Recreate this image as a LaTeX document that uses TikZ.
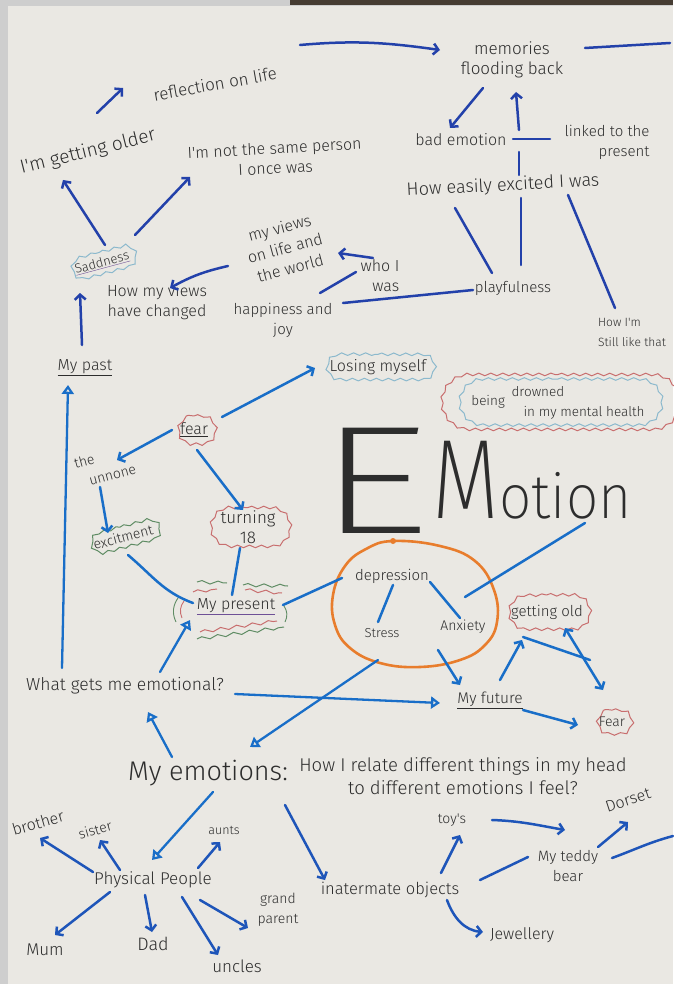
\documentclass[tikz,border=0pt]{standalone}
\usepackage{graphicx}
\usepackage{fontspec}
\newfontfamily\hand{Fira Sans Light}
\newfontfamily\thinhand{Fira Sans ExtraLight}
\usetikzlibrary{arrows.meta,decorations.pathmorphing,calc,fit,shapes.misc}
\definecolor{ink}{RGB}{45,45,45}
\definecolor{paper}{RGB}{234,232,227}
\definecolor{edgegrey}{RGB}{206,206,206}
\definecolor{darkstrip}{RGB}{70,60,50}
\definecolor{penT}{RGB}{35,65,170}
\definecolor{penM}{RGB}{25,110,200}
\definecolor{penB}{RGB}{30,85,185}
\definecolor{cred}{RGB}{200,110,110}
\definecolor{cgreen}{RGB}{95,140,100}
\definecolor{cblue}{RGB}{140,185,205}
\definecolor{corange}{RGB}{232,125,45}
\definecolor{cpurple}{RGB}{110,80,150}
\tikzset{
  hw/.style={font=\hand\fontsize{#1}{20}\selectfont, text=ink, inner sep=1pt, align=center},
  arr/.style={draw=#1, line width=2.5pt, line cap=round, line join=round, -{Straight Barb[length=5pt,width=11pt]}},
  dbl/.style={draw=#1, line width=2.5pt, line cap=round, line join=round, {Straight Barb[length=5pt,width=11pt]}-{Straight Barb[length=5pt,width=11pt]}},
  ln/.style={draw=#1, line width=2.5pt, line cap=round},
  tri/.style={draw=#1, line width=2.3pt, line cap=round, -{Triangle[open,length=9pt,width=12pt]}},
  cl/.style={rounded rectangle, draw=#1, line width=1pt, inner xsep=3pt, inner ysep=5pt, decorate, decoration={snake, segment length=12pt, amplitude=1.3pt}},
  wav/.style={draw=#1, line width=1pt, decorate, decoration={snake, segment length=16pt, amplitude=1.6pt}}
}
\begin{document}
\begin{tikzpicture}[x=1pt,y=1pt]
\useasboundingbox (0,0) rectangle (673,-984);
\fill[edgegrey] (0,0) rectangle (673,-984);
\fill[paper] (8,-6) rectangle (673,-984);
\fill[darkstrip] (290,0) rectangle (673,-5);

% ---------- nodes: top ----------
\node[hw=17, rotate=10] (refl) at (215,-84) {reflection on life};
\node[hw=17] (mem) at (512,-60) {memories\\flooding back};
\node[hw=19, rotate=14] (older) at (88,-152) {I'm getting older};
\node[hw=16, rotate=3] (same) at (275,-158) {I'm not the same person\\I once was};
\node[hw=16] (bad) at (461,-140) {bad emotion};
\node[hw=15, align=right] (linked) at (607,-142) {linked to the\\present};
\node[hw=18, rotate=3] (easily) at (503,-186) {How easily excited I was};
\node[hw=13, rotate=15, cl=cblue] (sad) at (102,-263) {{\color{cpurple}\underline{\textcolor{ink}{Saddness}}}};
\node[hw=16, rotate=15, font=\hand\fontsize{16}{21}\selectfont] (views) at (285,-248) {my views\\on life and\\the world};
\node[hw=16, align=right] (whowas) at (380,-276) {who I\\was};
\node[hw=16] (changed) at (157,-302) {How my views\\have changed};
\node[hw=15] (happy) at (283,-320) {happiness and\\joy};
\node[hw=15] (play) at (513,-288) {playfulness};
\node[hw=12, align=left] (still) at (632,-332) {How I'm\\Still like that};
\node[hw=16] (past) at (85,-368) {\underline{My past}};
\node[hw=16, cl=cblue] (losing) at (378,-367) {Losing myself};
\node[hw=13.5, cl=cblue, inner ysep=3pt] (drown) at (558,-402) {being\enspace\begin{tabular}{@{}l@{}}drowned\\\hspace*{12pt}in my mental health\end{tabular}};
\node[cl=cred, fit=(drown), inner xsep=4pt, inner ysep=4pt] (drownout) {};

% ---------- nodes: middle ----------
\node[hw=16, cl=cred, inner ysep=7pt] (fear) at (194,-430) {\underline{fear}};
\node[hw=14, rotate=15, align=left, font=\hand\fontsize{14}{20}\selectfont] (unknown) at (105,-466) {the\\\hspace*{10pt}unnone};
\node[text=ink, inner sep=0pt, anchor=base west] (emotion) at (317,-533)
  {\thinhand\scalebox{1.45}[1]{\fontsize{154}{154}\selectfont E}\hspace{3pt}\raisebox{15pt}{\scalebox{0.77}[1]{\fontsize{113}{113}\selectfont M}\scalebox{0.92}[1]{\fontsize{62}{62}\selectfont otion}}};
\node[hw=14, rotate=15, cl=cgreen] (excit) at (123,-537) {excitment};
\node[hw=17, cl=cred, inner ysep=3pt] (turn) at (248,-527) {turning\\18};
\node[hw=16] (present) at (236,-607) {{\color{cpurple}\underline{\textcolor{ink}{My present}}}};
\node[hw=15] (depr) at (392,-576) {depression};
\node[hw=13] (stress) at (382,-633) {Stress};
\node[hw=14] (anx) at (463,-627) {Anxiety};
\node[hw=15, cl=cred, inner ysep=10pt] (old) at (547,-612) {getting old};
\node[hw=17.5] (what) at (125,-686) {What gets me emotional?};
\node[hw=15.5] (future) at (490,-700) {\underline{My future}};
\node[hw=14, cl=cred, inner ysep=7pt] (fear2) at (612,-722) {Fear};

% ---------- nodes: bottom ----------
\node[hw=27] (myemo) at (208,-773) {My emotions:};
\node[hw=19, font=\hand\fontsize{18.5}{23}\selectfont] (how) at (463,-776) {How I relate different things in my head\\to different emotions I feel?};
\node[hw=16, rotate=16] (brother) at (38,-823) {brother};
\node[hw=14, rotate=16] (sister) at (95,-830) {sister};
\node[hw=12.5] (aunts) at (224,-830) {aunts};
\node[hw=17] (phys) at (153,-880) {Physical People};
\node[hw=17] (mum) at (45,-950) {Mum};
\node[hw=18] (dad) at (153,-944) {Dad};
\node[hw=17] (uncles) at (237,-966) {uncles};
\node[hw=14] (grand) at (278,-910) {grand\\parent};
\node[hw=16.5] (inan) at (390,-890) {inatermate objects};
\node[hw=14] (toys) at (452,-820) {toy's};
\node[hw=15] (teddy) at (568,-866) {My teddy\\bear};
\node[hw=16, rotate=18] (dorset) at (628,-800) {Dorset};
\node[hw=16] (jewel) at (522,-935) {Jewellery};

\coordinate (edgeA) at (670,-43);
\coordinate (edgeB) at (673,-836);
\coordinate (cross) at (519,-140);
\coordinate (blob) at (415,-603);
\coordinate (oldtip) at (603,-690);
\coordinate (oldmid) at (590,-660);

% ---------- decorations ----------
\draw[corange, line width=2.6pt] plot[smooth cycle, tension=0.7] coordinates {(393,-541) (440,-546) (475,-561) (494,-590) (497,-622) (485,-645) (460,-660) (420,-667) (380,-663) (350,-648) (335,-625) (333,-595) (345,-566) (366,-549)};
\fill[corange] (393,-541) circle (3pt);
\draw[wav=cgreen] (197,-582) -- (227,-583);
\draw[wav=cgreen] (243,-585) -- (288,-586);
\draw[wav=cred] (193,-592) -- (217,-589);
\draw[wav=cred] (245,-590) -- (282,-593);
\draw[wav=cred] (200,-632) -- (277,-621);
\draw[wav=cgreen] (197,-639) -- (284,-627);
\draw[cgreen, line width=0.9pt] (178,-598) to[bend right=30] (176,-622);
\draw[cred, line width=0.9pt] (184,-601) to[bend right=30] (182,-618);
\draw[cgreen, line width=0.9pt] (284,-606) to[bend left=30] (285,-622);

% ---------- connectors: top ----------
\draw[arr=penT] ([shift={(85,39)}]refl.center) to[out=5,in=172] ([shift={(-72,10)}]mem.center);
\draw[ln=penT] ([shift={(73,12)}]mem.center) -- (edgeA);
\draw[arr=penT] ([shift={(-29,-28)}]mem.center) -- ([shift={(-11,12)}]bad.center);
\draw[arr=penT] ([yshift=10]cross) -- ([shift={(4,-32)}]mem.center);
\draw[ln=penT] ([shift={(52,1)}]bad.center) -- ([shift={(-57,3)}]linked.center);
\draw[ln=penT] ([yshift=-12]cross) -- ([shift={(16,11)}]easily.center);
\draw[ln=penT] ([shift={(18,-12)}]easily.center) -- ([shift={(8,23)}]play.center);
\draw[ln=penT] ([shift={(-48,-22)}]easily.center) -- ([shift={(-21,15)}]play.center);
\draw[ln=penT] ([shift={(65,-9)}]easily.center) -- ([shift={(-17,24)}]still.center);
\draw[ln=penT] ([shift={(-40,-2)}]play.center) -- ([shift={(60,17)}]happy.center);
\draw[ln=penT] ([shift={(37,27)}]happy.center) -- ([shift={(-24,4)}]whowas.center);
\draw[arr=penT] ([shift={(-7,18)}]whowas.center) -- ([shift={(53,-5)}]views.center);
\draw[arr=penT] ([shift={(-57,-18)}]views.center) to[bend right=8] ([shift={(13,14)}]changed.center);
\draw[arr=penT] ([shift={(3,18)}]sad.center) -- ([shift={(-25,-28)}]older.center);
\draw[arr=penT] ([shift={(33,28)}]sad.center) -- ([shift={(-85,-19)}]same.center);
\draw[arr=penT] ([shift={(9,39)}]older.center) -- ([shift={(-92,-4)}]refl.center);
\draw[arr=penT] ([shift={(-3,23)}]past.center) -- ([shift={(-22,-30)}]sad.center);

% ---------- connectors: middle ----------
\draw[tri=penM] ([shift={(-63,18)}]what.center) -- ([shift={(-17,-17)}]past.center);
\draw[arr=penM] ([shift={(28,13)}]fear.center) -- ([shift={(-63,-1)}]losing.center);
\draw[arr=penM] ([shift={(-22,0)}]fear.center) -- ([shift={(12,6)}]unknown.center);
\draw[arr=penM] ([shift={(-5,-21)}]unknown.center) -- ([shift={(-15,4)}]excit.center);
\draw[arr=penM] ([shift={(3,-20)}]fear.center) -- ([shift={(-5,17)}]turn.center);
\draw[ln=penM] ([shift={(-8,-21)}]turn.center) -- ([shift={(-4,12)}]present.center);
\draw[ln=penM] ([shift={(5,-18)}]excit.center) to[out=-40,in=160] ([shift={(-43,4)}]present.center);
\draw[ln=penM] ([shift={(-50,-2)}]depr.center) -- ([shift={(47,2)}]present.center);
\draw[tri=penM] ([shift={(35,14)}]what.center) -- ([shift={(-46,-13)}]present.center);
\draw[ln=penM] ([shift={(1,-9)}]depr.center) -- ([shift={(-4,11)}]stress.center);
\draw[ln=penM] ([shift={(38,-6)}]depr.center) -- ([shift={(-3,9)}]anx.center);
\draw[ln=penM] ([shift={(2,30)}]anx.center) -- ([shift={(268,10)}]emotion.base west);
\draw[arr=penM] ([shift={(23,-47)}]blob) -- ([shift={(-30,15)}]future.center);
\draw[tri=penM] ([shift={(-37,-57)}]blob) -- ([shift={(42,26)}]myemo.center);
\draw[tri=penM] ([shift={(110,-8)}]what.center) -- ([shift={(-50,-3)}]future.center);
\draw[tri=penM] ([shift={(-36,16)}]myemo.center) -- ([shift={(23,-26)}]what.center);
\draw[arr=penM] ([shift={(33,-10)}]future.center) -- ([shift={(-34,-3)}]fear2.center);
\draw[arr=penM] ([shift={(10,20)}]future.center) -- ([shift={(-25,-28)}]old.center);
\draw[dbl=penM] ([shift={(18,-16)}]old.center) -- (oldtip);
\draw[ln=penM] ([shift={(-24,-25)}]old.center) -- (oldmid);

% ---------- connectors: bottom ----------
\draw[tri=penM] ([shift={(5,-19)}]myemo.center) -- ([shift={(-1,20)}]phys.center);
\draw[arr=penB] ([shift={(77,-32)}]myemo.center) -- ([shift={(-65,10)}]inan.center);
\draw[arr=penB] ([shift={(-60,8)}]phys.center) -- ([shift={(2,-15)}]brother.center);
\draw[arr=penB] ([shift={(-33,10)}]phys.center) -- ([shift={(5,-10)}]sister.center);
\draw[arr=penB] ([shift={(45,12)}]phys.center) -- ([shift={(-4,-12)}]aunts.center);
\draw[arr=penB] ([shift={(-43,-12)}]phys.center) -- ([shift={(10,15)}]mum.center);
\draw[arr=penB] ([shift={(-8,-15)}]phys.center) -- ([shift={(-1,12)}]dad.center);
\draw[arr=penB] ([shift={(29,-17)}]phys.center) -- ([shift={(-19,11)}]uncles.center);
\draw[arr=penB] ([shift={(47,-20)}]phys.center) -- ([shift={(-30,-18)}]grand.center);
\draw[arr=penB] ([shift={(51,17)}]inan.center) -- ([shift={(8,-15)}]toys.center);
\draw[arr=penB] ([shift={(40,0)}]toys.center) to[out=-2,in=170] ([shift={(-3,36)}]teddy.center);
\draw[ln=penB] ([shift={(90,10)}]inan.center) -- ([shift={(-40,9)}]teddy.center);
\draw[arr=penB] ([shift={(30,19)}]teddy.center) -- ([shift={(0,-22)}]dorset.center);
\draw[ln=penB] ([shift={(44,8)}]teddy.center) to[out=20,in=195] (edgeB);
\draw[arr=penB] ([shift={(57,-10)}]inan.center) to[out=-70,in=175] ([shift={(-39,3)}]jewel.center);
\end{tikzpicture}
\end{document}
